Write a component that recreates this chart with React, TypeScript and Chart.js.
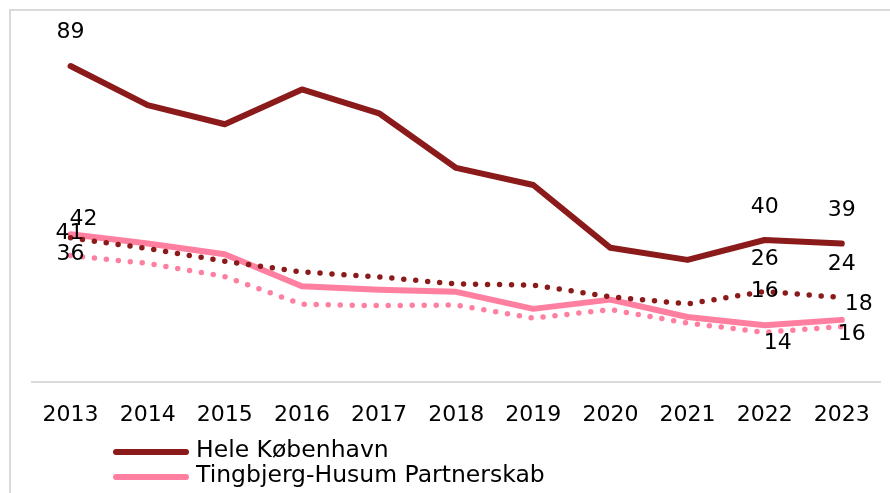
import React, { useEffect, useRef } from "react";
import { Chart, registerables } from "chart.js";

Chart.register(...registerables);

const years = ["2013", "2014", "2015", "2016", "2017", "2018", "2019", "2020", "2021", "2022", "2023"];
const heleKbh = [89, 78, 72.6, 82.4, 75.7, 60.3, 55.5, 37.8, 34.4, 40, 39];
const tingbjerg = [41.6, 39, 36, 27, 26, 25.4, 20.6, 23.2, 18.3, 16, 17.5];
const heleKbhDotted = [40.6, 37.6, 34, 31, 29.6, 27.6, 27.3, 24, 22, 25.5, 23.8];
const tingbjergDotted = [35.6, 33.4, 29.7, 21.9, 21.5, 21.7, 18, 20.4, 16.6, 14, 15.6];
const legendNames = ["Hele København", "Tingbjerg-Husum Partnerskab"];

const DARK = "#8B1A1A";
const PINK = "#FF7FA0";
const FONT = "'DejaVu Sans', sans-serif";

// label offsets (px) relative to point, per dataset index, per data index
const labelOffsets: Record<number, Record<number, [number, number]>> = {
  0: { 0: [0, -34], 9: [0, -33], 10: [0, -33] },
  1: { 0: [13, -15], 9: [0, -34], 10: [17, -16] },
  2: { 0: [-1, -5], 9: [0, -32], 10: [0, -33] },
  3: { 0: [0, -1], 9: [13, 11], 10: [10, 8] },
};

const framePlugin = {
  id: "frame",
  beforeDraw(chart: any) {
    const ctx = chart.ctx;
    ctx.save();
    ctx.fillStyle = "#ffffff";
    ctx.fillRect(0, 0, chart.width, chart.height);
    ctx.strokeStyle = "#d9d9d9";
    ctx.lineWidth = 2;
    ctx.beginPath();
    ctx.moveTo(10, chart.height + 2);
    ctx.lineTo(10, 10);
    ctx.lineTo(chart.width + 2, 10);
    ctx.stroke();
    ctx.restore();
  },
};

const labelsPlugin = {
  id: "pointLabels",
  afterDatasetsDraw(chart: any) {
    const ctx = chart.ctx;
    ctx.save();
    ctx.font = `22px ${FONT}`;
    ctx.fillStyle = "#000000";
    ctx.textAlign = "center";
    ctx.textBaseline = "middle";
    chart.data.datasets.forEach((ds: any, di: number) => {
      const meta = chart.getDatasetMeta(di);
      const offs = labelOffsets[di] || {};
      Object.keys(offs).forEach((k) => {
        const i = Number(k);
        const pt = meta.data[i];
        if (!pt) return;
        const [dx, dy] = offs[i];
        ctx.fillText(String(Math.round(ds.data[i])), pt.x + dx, pt.y + dy);
      });
    });
    ctx.restore();
  },
};

const legendPlugin = {
  id: "customLegend",
  afterDraw(chart: any) {
    const ctx = chart.ctx;
    ctx.save();
    const rows = [
      { name: legendNames[0], color: DARK, y: 452 },
      { name: legendNames[1], color: PINK, y: 477 },
    ];
    rows.forEach((r) => {
      ctx.strokeStyle = r.color;
      ctx.lineWidth = 6;
      ctx.lineCap = "round";
      ctx.beginPath();
      ctx.moveTo(116, r.y);
      ctx.lineTo(186, r.y);
      ctx.stroke();
      ctx.font = `23.5px ${FONT}`;
      ctx.fillStyle = "#000000";
      ctx.textAlign = "left";
      ctx.textBaseline = "middle";
      ctx.fillText(r.name, 196, r.y - 1);
    });
    ctx.restore();
  },
};

export default function App() {
  const ref = useRef<HTMLCanvasElement | null>(null);
  useEffect(() => {
    if (!ref.current) return;
    const chart = new Chart(ref.current, {
      type: "line",
      data: {
        labels: years,
        datasets: [
          {
            label: legendNames[0],
            data: heleKbh,
            borderColor: DARK,
            backgroundColor: DARK,
            borderWidth: 6,
            pointRadius: 0,
            tension: 0,
            borderCapStyle: "round",
            borderJoinStyle: "round",
            order: 0,
          },
          {
            label: legendNames[1],
            data: tingbjerg,
            borderColor: PINK,
            backgroundColor: PINK,
            borderWidth: 6,
            pointRadius: 0,
            tension: 0,
            borderCapStyle: "round",
            borderJoinStyle: "round",
            order: 2,
          },
          {
            label: legendNames[0] + " (prikket)",
            data: heleKbhDotted,
            borderColor: DARK,
            backgroundColor: DARK,
            borderWidth: 5.5,
            borderDash: [0, 12],
            borderCapStyle: "round",
            pointRadius: 0,
            tension: 0,
            order: 1,
          },
          {
            label: legendNames[1] + " (prikket)",
            data: tingbjergDotted,
            borderColor: PINK,
            backgroundColor: PINK,
            borderWidth: 5.5,
            borderDash: [0, 12],
            borderCapStyle: "round",
            pointRadius: 0,
            tension: 0,
            order: 3,
          },
        ],
      },
      options: {
        responsive: false,
        animation: false,
        layout: { padding: { left: 32, right: 5, top: 27, bottom: 44.6 } },
        plugins: {
          legend: { display: false },
          tooltip: { enabled: false },
          title: { display: false },
        },
        scales: {
          x: {
            offset: true,
            grid: { display: false, drawTicks: false },
            border: { display: true, color: "#d9d9d9", width: 2 },
            ticks: {
              color: "#000000",
              font: { family: FONT, size: 22 },
              padding: 20,
              maxRotation: 0,
              autoSkip: false,
            },
          },
          y: {
            display: false,
            min: 0,
            max: 100,
          },
        },
      },
      plugins: [framePlugin, labelsPlugin, legendPlugin],
    });
    return () => chart.destroy();
  }, []);
  return (
    <div style={{ position: "absolute", left: 0, top: 0, width: 890, height: 493 }}>
      <canvas ref={ref} width={890} height={493} style={{ display: "block" }} />
    </div>
  );
}
